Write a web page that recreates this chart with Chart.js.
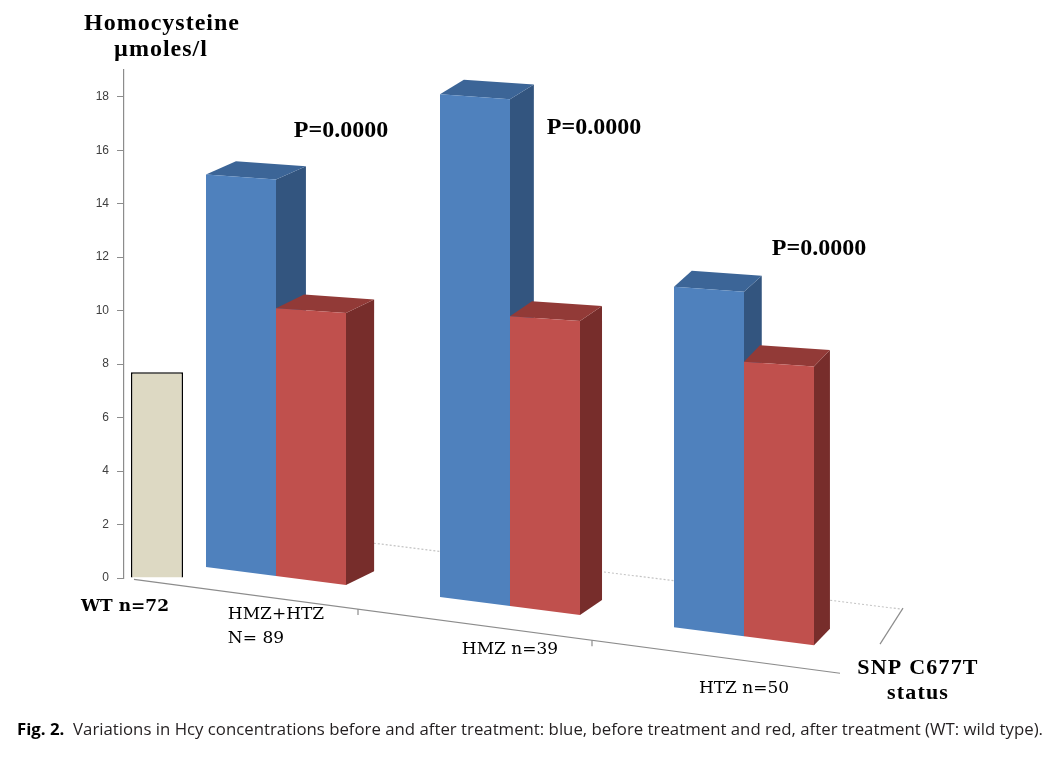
<!DOCTYPE html>
<html>
<head>
<meta charset="utf-8">
<script src="https://cdn.jsdelivr.net/npm/chart.js@4.4.1/dist/chart.umd.min.js"></script>
<style>
  html, body { margin: 0; padding: 0; background: #ffffff; }
  #wrap { position: relative; width: 1059px; height: 757px; overflow: hidden; background: #fff; }
  #c { position: absolute; left: 0; top: 0; }
  #cap { position: absolute; left: 17px; top: 718px; font-family: "Open Sans", sans-serif; font-size: 16.8px;
         line-height: 22px; color: #231f20; white-space: nowrap; }
  #cap b { color: #000; }
</style>
</head>
<body>
<div id="wrap">
  <canvas id="c" width="1059" height="757"></canvas>
  <div id="cap"><b>Fig. 2.</b>&nbsp; Variations in Hcy concentrations before and after treatment: blue, before treatment and red, after treatment (WT: wild type).</div>
</div>
<script>
// ---------------- data ----------------
const groupLabels = [['HMZ+HTZ', 'N= 89'], ['HMZ n=39'], ['HTZ n=50']];
const wildTypeLabel = 'WT n=72';
const wildTypeValue = [7.7, null, null];
const beforeTreatment = [15.0, 18.0, 10.8];
const afterTreatment = [10.0, 9.7, 8.0];
const pValueLabels = ['P=0.0000', 'P=0.0000', 'P=0.0000'];
const yAxisTitle = ['Homocysteine', 'µmoles/l'];
const xAxisTitle = ['SNP C677T', 'status'];
const yMin = 0, yMax = 19, yStep = 2;

// ---------------- look (styles / perspective) ----------------
const look = {
  floorK: 0.129, floorShift: -21.7,   // sloped floor under 3D bars
  frontK: 0.133,                        // front floor edge
  backK: 0.125, backShift: -66,         // back floor edge (dotted)
  topK: 0.07,                           // slight tilt of bar top edges
  axisColor: '#8c8c8c',
  labelNudge: [0, -8, 0],
  pAnchor: [{ dx: 30, v: 16.74 }, { dx: 49, v: 16.83 }, { dx: 40, v: 12.3 }]
};
function depthAt(x) { return { dx: 31 - 0.026 * (x - 200), dy: -13 - 0.006 * (x - 200) }; }

function poly(ctx, pts, fill) {
  ctx.beginPath();
  ctx.moveTo(pts[0][0], pts[0][1]);
  for (let i = 1; i < pts.length; i++) ctx.lineTo(pts[i][0], pts[i][1]);
  ctx.closePath();
  ctx.fillStyle = fill;
  ctx.fill();
}

const bars3d = {
  id: 'bars3d',
  beforeDatasetsDraw(chart) {
    const { ctx, chartArea: { left, right }, scales: { y } } = chart;
    const z = y.getPixelForValue(0);
    ctx.save();
    // back floor edge (dotted)
    const bx0 = left + 95, bx1 = right + 75;
    const by = (x) => z + look.backShift + look.backK * (x - left);
    ctx.strokeStyle = '#c4c4c4'; ctx.lineWidth = 1.2; ctx.setLineDash([2, 2]);
    ctx.beginPath(); ctx.moveTo(bx0, by(bx0)); ctx.lineTo(bx1, by(bx1)); ctx.stroke();
    ctx.setLineDash([]);
    ctx.strokeStyle = look.axisColor; ctx.lineWidth = 1.2;
    // right depth edge
    ctx.beginPath(); ctx.moveTo(bx1 + 2, by(bx1) - 1); ctx.lineTo(bx1 - 21, by(bx1) + 35); ctx.stroke();
    // front floor edge
    const fx0 = left + 10, fx1 = right + 14;
    const fy = (x) => z + look.frontK * (x - left);
    ctx.beginPath(); ctx.moveTo(fx0, fy(fx0)); ctx.lineTo(fx1, fy(fx1)); ctx.stroke();
    // category separators
    const slot = (right - left) / chart.data.labels.length;
    for (let i = 1; i < chart.data.labels.length; i++) {
      const tx = left + slot * i;
      ctx.beginPath(); ctx.moveTo(tx, fy(tx)); ctx.lineTo(tx, fy(tx) + 6); ctx.stroke();
    }
    ctx.restore();
  },
  beforeDatasetDraw(chart, args) {
    if (chart.data.datasets[args.index].solid3d) return false;
  },
  afterDatasetsDraw(chart) {
    const { ctx, chartArea: { left }, scales: { y } } = chart;
    const z = y.getPixelForValue(0);
    const floor = (x) => z + look.floorShift + look.floorK * (x - left);
    ctx.save();
    const n = chart.data.labels.length;
    for (let i = 0; i < n; i++) {
      chart.data.datasets.forEach((ds, di) => {
        if (!ds.solid3d) return;
        const el = chart.getDatasetMeta(di).data[i];
        if (!el || ds.data[i] == null) return;
        const p = el.getProps(['x', 'y', 'width'], true);
        const xl = p.x - p.width / 2, xr = p.x + p.width / 2;
        const ytl = p.y - look.topK * p.width / 2, ytr = p.y + look.topK * p.width / 2;
        const ybl = floor(xl), ybr = floor(xr);
        const d = depthAt(p.x);
        poly(ctx, [[xr, ytr], [xr + d.dx, ytr + d.dy], [xr + d.dx, ybr + d.dy], [xr, ybr]], ds.sideColor);
        poly(ctx, [[xl, ytl], [xr, ytr], [xr + d.dx, ytr + d.dy], [xl + d.dx, ytl + d.dy]], ds.topColor);
        poly(ctx, [[xl, ytl], [xr, ytr], [xr, ybr], [xl, ybl]], ds.backgroundColor);
      });
    }
    ctx.restore();
  },
  afterDraw(chart) {
    const { ctx, chartArea: { left, right }, scales: { y } } = chart;
    const z = y.getPixelForValue(0);
    const fy = (x) => z + look.frontK * (x - left);
    ctx.save();
    ctx.fillStyle = '#000';
    // y axis title
    ctx.font = 'bold 24px "Liberation Serif"';
    ctx.textAlign = 'center'; ctx.textBaseline = 'alphabetic';
    ctx.letterSpacing = '1px';
    ctx.fillText(yAxisTitle[0], 162, 30);
    ctx.fillText(yAxisTitle[1], 161, 56);
    ctx.letterSpacing = '0px';
    // P values
    ctx.font = 'bold 24px "Liberation Serif"';
    ctx.textBaseline = 'middle';
    const red = chart.getDatasetMeta(2).data;
    pValueLabels.forEach((t, i) => {
      const a = look.pAnchor[i];
      ctx.fillText(t, red[i].x + a.dx, y.getPixelForValue(a.v));
    });
    // category labels
    ctx.textBaseline = 'alphabetic';
    ctx.font = '17px "DejaVu Serif"';
    const blue = chart.getDatasetMeta(1).data;
    chart.data.labels.forEach((lines, i) => {
      const cx = blue[i].x + blue[i].width / 2;
      const widths = lines.map(l => ctx.measureText(l).width);
      const w = Math.max(...widths);
      const base = fy(cx) + 33 - (lines.length - 1) * 12 + look.labelNudge[i];
      ctx.textAlign = lines.length > 1 ? 'left' : 'center';
      lines.forEach((l, k) => {
        ctx.fillText(l, lines.length > 1 ? cx - w / 2 : cx, base + k * 24);
      });
    });
    // WT label
    const wt = chart.getDatasetMeta(0).data[0];
    ctx.font = 'bold 17px "DejaVu Serif"';
    ctx.textAlign = 'center';
    ctx.fillText(wildTypeLabel, wt.x - 32, fy(wt.x - 32) + 33);
    // x axis title
    ctx.font = 'bold 22px "Liberation Serif"';
    ctx.letterSpacing = '1.2px';
    const tx = right + 92;
    ctx.fillText(xAxisTitle[0], tx, fy(right + 14) + 1);
    ctx.fillText(xAxisTitle[1], tx, fy(right + 14) + 26);
    ctx.restore();
  }
};

new Chart(document.getElementById('c'), {
  type: 'bar',
  data: {
    labels: groupLabels,
    datasets: [
      { label: 'WT', data: wildTypeValue, backgroundColor: '#ddd9c3', borderColor: '#000000', borderWidth: 1.5,
        categoryPercentage: 1.077, barPercentage: 0.62 },
      { label: 'Before treatment', data: beforeTreatment, backgroundColor: '#4f81bd', topColor: '#3c6597', sideColor: '#33557f',
        solid3d: true, categoryPercentage: 0.8974, barPercentage: 1 },
      { label: 'After treatment', data: afterTreatment, backgroundColor: '#c0504d', topColor: '#923a37', sideColor: '#772d2b',
        solid3d: true, categoryPercentage: 0.8974, barPercentage: 1 }
    ]
  },
  options: {
    responsive: false,
    animation: false,
    devicePixelRatio: 1,
    layout: { padding: { left: 94, right: 233, top: 70, bottom: 179 } },
    plugins: { legend: { display: false }, tooltip: { enabled: false }, title: { display: false } },
    scales: {
      x: { display: false, grid: { display: false } },
      y: {
        min: yMin, max: yMax,
        ticks: { stepSize: yStep, includeBounds: false, padding: 8, color: '#404040',
                 font: { family: '"Liberation Sans", Arial, sans-serif', size: 12 } },
        grid: { drawOnChartArea: false, drawTicks: true, tickLength: 7, color: '#8c8c8c' },
        border: { display: true, color: '#8c8c8c', width: 1.2 },
        afterFit(scale) { scale.width = 30; }
      }
    }
  },
  plugins: [bars3d]
});
</script>
</body>
</html>
